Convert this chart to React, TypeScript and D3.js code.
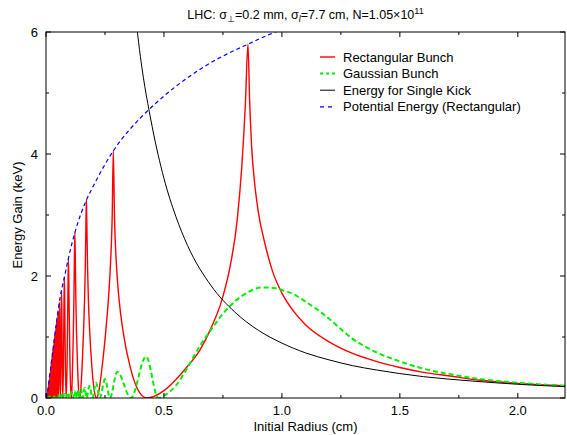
import * as d3 from "d3";

// energy gain vs initial radius
// each entry: [radius (cm), energy (keV)]
const rectBunch: [number, number][] = [
  [0, 0], [0.004, 0.08], [0.006, 0], [0.008, 0.15], [0.0095, 0], [0.011, 0.23],
  [0.012, 0], [0.013, 0.28], [0.014, 0], [0.015, 0.33], [0.016, 0], [0.017, 0.38],
  [0.0178, 0], [0.0186, 0.44], [0.0193, 0], [0.0201, 0.5], [0.0214, 0],
  [0.0219, 0.56], [0.0225, 0], [0.0231, 0.6], [0.0238, 0], [0.0245, 0.64],
  [0.0252, 0], [0.0259, 0.69], [0.0268, 0], [0.0276, 0.75], [0.0285, 0],
  [0.0295, 0.81], [0.0306, 0], [0.0317, 0.87], [0.0329, 0], [0.0342, 0.95],
  [0.0357, 0], [0.0372, 1.03], [0.0389, 0],
  [0.04, 0.65], [0.0408, 1.12], [0.0416, 0.65], [0.0428, 0],
  [0.0441, 0.7], [0.0451, 1.25], [0.046, 0.7], [0.0476, 0],
  [0.0492, 0.7], [0.0504, 1.4], [0.0516, 0.7], [0.0535, 0],
  [0.0549, 0.5], [0.0562, 1.3], [0.0571, 1.57], [0.058, 1.3], [0.0594, 0.5], [0.0611, 0],
  [0.0629, 0.51], [0.0647, 1.4], [0.0658, 1.75], [0.0671, 1.4], [0.069, 0.51], [0.0713, 0],
  [0.0738, 0.51], [0.0762, 1.5], [0.0778, 1.98], [0.0796, 1.5], [0.0823, 0.51], [0.0856, 0],
  [0.0892, 0.51], [0.0926, 1.6], [0.0951, 2.29], [0.0977, 1.6], [0.1019, 0.51], [0.107, 0],
  [0.109, 0.08], [0.1126, 0.51], [0.1158, 1.06], [0.1182, 1.6], [0.1198, 2.1],
  [0.1223, 2.72], [0.1249, 2.1], [0.1266, 1.6], [0.1295, 1.06], [0.1338, 0.51],
  [0.1392, 0.08], [0.1427, 0],
  [0.1463, 0.08], [0.1529, 0.51], [0.1588, 1.06], [0.1634, 1.6], [0.1663, 2.1],
  [0.1695, 2.9], [0.1712, 3.25], [0.1729, 2.9], [0.1764, 2.1], [0.1798, 1.6],
  [0.1857, 1.06], [0.1945, 0.51], [0.2063, 0.08], [0.214, 0],
  [0.2223, 0.08], [0.2378, 0.51], [0.2525, 1.06], [0.2642, 1.6], [0.2721, 2.1],
  [0.2807, 3.0], [0.2853, 4.05], [0.2902, 3.0], [0.2999, 2.1], [0.3101, 1.6],
  [0.328, 1.06], [0.3567, 0.51], [0.3981, 0.08], [0.428, 0],
  [0.46, 0.03], [0.5, 0.12], [0.55, 0.3], [0.6, 0.52], [0.653, 0.79], [0.7, 1.15],
  [0.745, 1.6], [0.78, 2.15], [0.81, 2.9], [0.83, 3.8], [0.845, 4.8], [0.856, 5.8],
  [0.863, 4.9], [0.872, 4.1], [0.885, 3.5], [0.9, 3.05], [0.93, 2.5], [0.96, 2.08],
  [1.0, 1.72], [1.05, 1.42], [1.1, 1.2], [1.2, 0.92], [1.3, 0.73], [1.4, 0.6],
  [1.5, 0.5], [1.6, 0.42], [1.713, 0.36], [1.84, 0.29], [2.0, 0.24], [2.2, 0.2],
];

const gaussBunch: [number, number][] = [
  [0, 0], [0.02, 0.02], [0.03, 0], [0.035, 0.03], [0.04, 0], [0.045, 0.04],
  [0.05, 0], [0.055, 0.05], [0.06, 0], [0.066, 0.06], [0.072, 0], [0.078, 0.07],
  [0.085, 0], [0.092, 0.09], [0.1, 0], [0.109, 0.1], [0.115, 0], [0.121, 0.11],
  [0.127, 0], [0.134, 0.13], [0.14, 0], [0.148, 0.15], [0.155, 0], [0.164, 0.17],
  [0.172, 0], [0.184, 0.2], [0.197, 0], [0.212, 0.25], [0.228, 0], [0.25, 0.31],
  [0.271, 0], [0.302, 0.43], [0.36, 0], [0.424, 0.68], [0.476, 0],
  [0.5, 0.04], [0.55, 0.2], [0.6, 0.5], [0.65, 0.84], [0.7, 1.12], [0.75, 1.38],
  [0.8, 1.58], [0.85, 1.72], [0.914, 1.81], [0.95, 1.81], [1.0, 1.77], [1.05, 1.7],
  [1.1, 1.58], [1.15, 1.45], [1.2, 1.3], [1.25, 1.13], [1.3, 0.97], [1.35, 0.85],
  [1.4, 0.75], [1.5, 0.6], [1.6, 0.48], [1.713, 0.39], [1.84, 0.31], [2.0, 0.25],
  [2.2, 0.2],
];

const singleKick: [number, number][] = [
  [0.37, 6.6], [0.4, 5.6], [0.45, 4.45], [0.5, 3.6], [0.55, 2.98], [0.6, 2.5],
  [0.7, 1.84], [0.8, 1.41], [0.9, 1.11], [1.0, 0.9], [1.1, 0.74], [1.2, 0.625],
  [1.3, 0.53], [1.4, 0.46], [1.5, 0.4], [1.6, 0.35], [1.8, 0.28], [2.0, 0.225],
  [2.2, 0.186],
];

const potentialEnergy: [number, number][] = [
  [0, 0], [0.005, 0.05], [0.01, 0.2], [0.015, 0.36], [0.02, 0.5], [0.025, 0.65],
  [0.03, 0.8], [0.038, 1.06], [0.05, 1.4], [0.06, 1.65], [0.078, 1.98],
  [0.095, 2.29], [0.123, 2.72], [0.172, 3.25], [0.2, 3.47], [0.25, 3.83],
  [0.285, 4.05], [0.35, 4.38], [0.4, 4.59], [0.5, 4.95], [0.6, 5.25], [0.7, 5.5],
  [0.8, 5.7], [0.856, 5.8], [0.9, 5.88], [1.0, 6.05], [1.05, 6.15],
];

const xMajor = [0, 0.5, 1, 1.5, 2];
const xMinor = [0.25, 0.75, 1.25, 1.75];
const yMajor = [0, 2, 4, 6];
const yMinor = [1, 3, 5];

const legendLabels = [
  "Rectangular Bunch",
  "Gaussian Bunch",
  "Energy for Single Kick",
  "Potential Energy (Rectangular)",
];

const width = 567;
const height = 435;
const margin = { top: 32, right: 2, bottom: 37, left: 46 };
const font = "'Liberation Sans', Arial, Helvetica, sans-serif";

const series = [
  { data: rectBunch, color: "#ff0000", width: 1.4, dash: "" },
  { data: gaussBunch, color: "#00ee00", width: 2, dash: "5,3" },
  { data: singleKick, color: "#000000", width: 1, dash: "" },
  { data: potentialEnergy, color: "#0000ff", width: 1.2, dash: "4,3" },
];

export default function App() {
  const x = d3
    .scaleLinear()
    .domain([0, 2.2])
    .range([margin.left, width - margin.right]);
  const y = d3
    .scaleLinear()
    .domain([0, 6])
    .range([height - margin.bottom, margin.top]);

  const line = d3
    .line<[number, number]>()
    .x((d) => x(d[0]))
    .y((d) => y(d[1]))
    .curve(d3.curveMonotoneX);

  const left = margin.left;
  const right = width - margin.right;
  const top = margin.top;
  const bottom = height - margin.bottom;

  return (
    <svg
      width={width}
      height={height}
      style={{ position: "absolute", left: 0, top: 0, background: "#fff" }}
      fontFamily={font}
    >
      <defs>
        <clipPath id="plot">
          <rect x={left} y={top} width={right - left} height={bottom - top} />
        </clipPath>
      </defs>

      <g clipPath="url(#plot)">
        {series.map((s, i) => (
          <path
            key={i}
            d={line(s.data) ?? ""}
            fill="none"
            stroke={s.color}
            strokeWidth={s.width}
            strokeDasharray={s.dash}
          />
        ))}
      </g>

      {/* frame and inward ticks, mirrored on all sides */}
      <rect x={left} y={top} width={right - left} height={bottom - top} fill="none" stroke="#000" />
      {xMajor.map((t) => (
        <g key={"xm" + t}>
          <line x1={x(t)} x2={x(t)} y1={bottom} y2={bottom - 5} stroke="#000" />
          <line x1={x(t)} x2={x(t)} y1={top} y2={top + 5} stroke="#000" />
          <text x={x(t)} y={bottom + 17} fontSize={13} textAnchor="middle">
            {d3.format(".1f")(t)}
          </text>
        </g>
      ))}
      {xMinor.map((t) => (
        <g key={"xn" + t}>
          <line x1={x(t)} x2={x(t)} y1={bottom} y2={bottom - 3} stroke="#000" />
          <line x1={x(t)} x2={x(t)} y1={top} y2={top + 3} stroke="#000" />
        </g>
      ))}
      {yMajor.map((t) => (
        <g key={"ym" + t}>
          <line x1={left} x2={left + 5} y1={y(t)} y2={y(t)} stroke="#000" />
          <line x1={right} x2={right - 5} y1={y(t)} y2={y(t)} stroke="#000" />
          <text x={left - 8} y={y(t) + 4.5} fontSize={13} textAnchor="end">
            {t}
          </text>
        </g>
      ))}
      {yMinor.map((t) => (
        <g key={"yn" + t}>
          <line x1={left} x2={left + 3} y1={y(t)} y2={y(t)} stroke="#000" />
          <line x1={right} x2={right - 3} y1={y(t)} y2={y(t)} stroke="#000" />
        </g>
      ))}

      <text x={(left + right) / 2} y={height - 4} fontSize={13} textAnchor="middle">
        Initial Radius (cm)
      </text>
      <text
        transform={`translate(22,${(top + bottom) / 2}) rotate(-90)`}
        fontSize={13}
        textAnchor="middle"
      >
        Energy Gain (keV)
      </text>

      <text x={(left + right) / 2} y={19} fontSize={12.5} textAnchor="middle">
        LHC: σ<tspan dy={3} fontSize={9}>⊥</tspan>
        <tspan dy={-3}>=0.2 mm, σ</tspan>
        <tspan dy={3} fontSize={9} fontStyle="italic">l</tspan>
        <tspan dy={-3}>=7.7 cm, N=1.05×10</tspan>
        <tspan dy={-5} fontSize={9}>11</tspan>
      </text>

      {legendLabels.map((label, i) => {
        const ly = 57 + i * 16.6;
        const s = series[i];
        return (
          <g key={label}>
            <line
              x1={320}
              x2={335}
              y1={ly}
              y2={ly}
              stroke={s.color}
              strokeWidth={s.width}
              strokeDasharray={i === 1 ? "3,3" : i === 3 ? "4,4" : ""}
            />
            <text x={343} y={ly + 4.5} fontSize={13}>
              {label}
            </text>
          </g>
        );
      })}
    </svg>
  );
}
